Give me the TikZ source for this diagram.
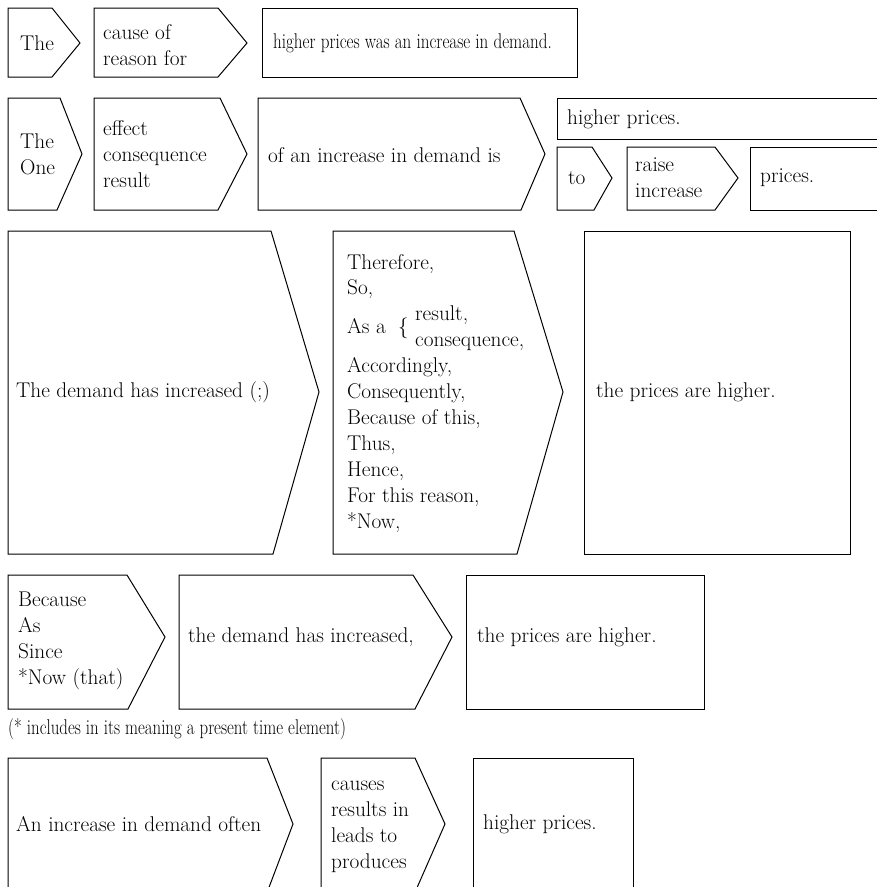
\documentclass[tikz,border=0pt]{standalone}
\tikzset{
 box/.style={draw=black, line width=1pt, line join=miter},
 txt/.style={font=\fontsize{21.3}{26}\selectfont, inner sep=0pt, align=left, anchor=west},
 btxt/.style={font=\fontsize{21.3}{26}\selectfont, inner sep=0pt, anchor=base west},
}
\begin{document}
\begin{tikzpicture}[x=1pt,y=-1pt]
\clip (0,0) rectangle (877,887);
\fill[white] (0,0) rectangle (877,887);
% Row 1
\draw[box] (8,8) -- (52,8) -- (80,43) -- (52,77) -- (8,77) -- cycle;
\draw[box] (94,8) -- (218,8) -- (247,43) -- (218,77) -- (94,77) -- cycle;
\draw[box] (262,8) rectangle (577,77);
\node[txt] (a1) at (20,43) {The};
\node[txt] (a2) at (103,45) {cause of\\reason for};
\node[txt] (a3) at (273,43) {\scalebox{0.8}[1]{higher prices was an increase in demand.}};
% Row 2
\draw[box] (8,98) -- (60,98) -- (82,154) -- (57,210) -- (8,210) -- cycle;
\draw[box] (94,98) -- (220,98) -- (247,154) -- (218,210) -- (94,210) -- cycle;
\draw[box] (258,98) -- (520,98) -- (545,154) -- (521,210) -- (258,210) -- cycle;
\draw[box] (557,98) rectangle (890,139);
\draw[box] (557,147) -- (592,147) -- (612,178) -- (594,210) -- (557,210) -- cycle;
\draw[box] (627,147) -- (715,147) -- (738,178) -- (715,210) -- (627,210) -- cycle;
\draw[box] (750,147) rectangle (890,210);
\node[txt] (b1) at (20,154) {The\\One};
\node[txt] (b2) at (103,154) {effect\\consequence\\result};
\node[txt] (b3) at (268,155) {of an increase in demand is};
\node[txt] (b4) at (567,119) {higher prices.};
\node[txt] (b5) at (568,178) {to};
\node[txt] (b6) at (635,178) {raise\\increase};
\node[txt] (b7) at (760,178) {prices.};
% Row 3
\draw[box] (8,231) -- (271,231) -- (319,392) -- (273,554) -- (8,554) -- cycle;
\draw[box] (333,231) -- (514,231) -- (563,392) -- (517,554) -- (333,554) -- cycle;
\draw[box] (584,231) rectangle (850,554);
\node[txt] (c1) at (16,392) {The demand has increased (;)};
\node[btxt] (d1) at (347,269) {Therefore,};
\node[btxt] (d2) at (347,294.9) {So,};
\node[btxt] (d3) at (347,333.8) {As a};
\node[btxt] (d3b) at (398,333.8) {$\big\{$};
\node[btxt] (d4) at (415,320.8) {result,};
\node[btxt] (d5) at (415,346.7) {consequence,};
\node[btxt] (d6) at (347,372.6) {Accordingly,};
\node[btxt] (d7) at (347,398.5) {Consequently,};
\node[btxt] (d8) at (347,424.4) {Because of this,};
\node[btxt] (d9) at (347,450.3) {Thus,};
\node[btxt] (d10) at (347,476.2) {Hence,};
\node[btxt] (d11) at (347,502.1) {For this reason,};
\node[btxt] (d12) at (347,528) {*Now,};
\node[txt] (e1) at (596,392) {the prices are higher.};
% Row 4
\draw[box] (8,575) -- (127,575) -- (165,637) -- (128,709) -- (8,709) -- cycle;
\draw[box] (179,575) -- (413,575) -- (452,637) -- (415,709) -- (179,709) -- cycle;
\draw[box] (466,575) rectangle (704,709);
\node[txt] (f1) at (18,641) {Because\\As\\Since\\*Now (that)};
\node[txt] (f2) at (188,637) {the demand has increased,};
\node[txt] (f3) at (477,637) {the prices are higher.};
\node[btxt] (fn) at (8,734) {\scalebox{0.79}[1]{\fontsize{21.3}{26}\selectfont(* includes in its meaning a present time element)}};
% Row 5
\draw[box] (8,758) -- (267,758) -- (293,824) -- (268,890) -- (8,890) -- cycle;
\draw[box] (321,758) -- (415,758) -- (445,824) -- (416,890) -- (321,890) -- cycle;
\draw[box] (473,758) rectangle (633,890);
\node[txt] (g1) at (16,824) {An increase in demand often};
\node[txt] (g2) at (331,827) {causes\\results in\\leads to\\produces};
\node[txt] (g3) at (483,824) {higher prices.};
\end{tikzpicture}
\end{document}
